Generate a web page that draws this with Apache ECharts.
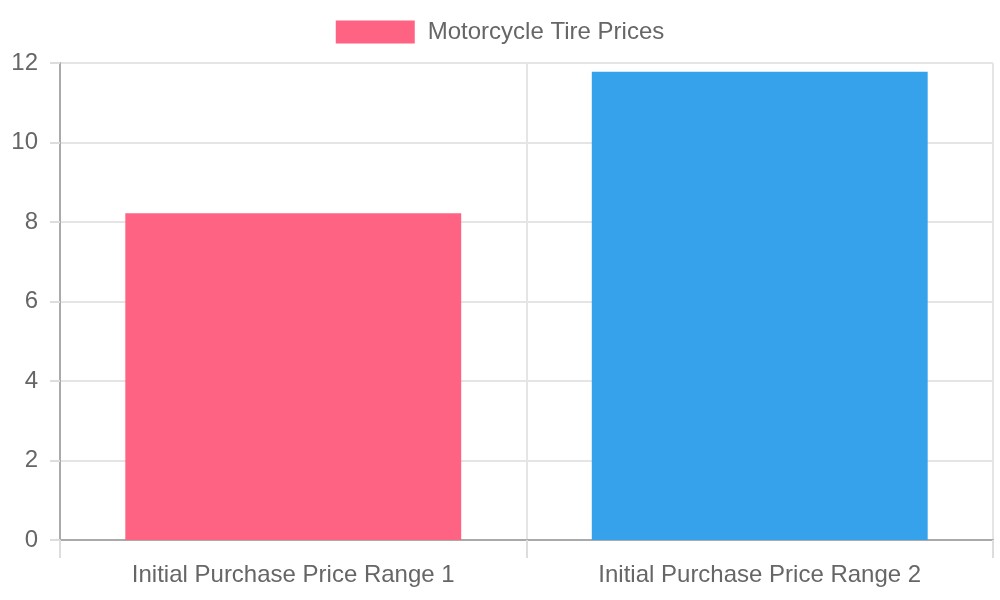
<!DOCTYPE html>
<html>
<head>
<meta charset="utf-8">
<script src="https://cdn.jsdelivr.net/npm/echarts@6/dist/echarts.min.js"></script>
<style>
  html, body { margin: 0; padding: 0; background: #fff; }
  #chart { width: 1000px; height: 600px; }
</style>
</head>
<body>
<div id="chart"></div>
<script>
// chart data
const categories = [ 'Initial Purchase Price Range 1', 'Initial Purchase Price Range 2' ];
const prices = [ 8.22, 11.78 ];
const barColors = [ '#FF6384', '#36A2EB' ];
const seriesName = 'Motorcycle Tire Prices';

( function ()
{
  let myChart = echarts.init( document.getElementById( 'chart' ) );
  let option = {
    animation: false,
    textStyle: { fontFamily: 'Liberation Sans, Arial, sans-serif' },
    legend: {
      top: 15,
      left: 'center',
      icon: 'rect',
      itemWidth: 79,
      itemHeight: 23,
      itemGap: 12,
      textStyle: { fontSize: 24, color: '#666', padding: [ 0, 0, 0, 8 ] },
      data: [ seriesName ]
    },
    grid: { left: 60, right: 7, top: 63, bottom: 60, containLabel: false },
    xAxis: {
      type: 'category',
      data: categories,
      axisLine: { lineStyle: { color: '#aaa', width: 2 } },
      axisTick: { show: true, length: 18, lineStyle: { color: '#ddd', width: 2 } },
      axisLabel: { fontSize: 24, color: '#666', margin: 23 },
      splitLine: { show: true, lineStyle: { color: '#e5e5e5', width: 2 } }
    },
    yAxis: {
      type: 'value',
      min: 0,
      max: 12,
      interval: 2,
      axisLine: { show: true, lineStyle: { color: '#aaa', width: 2 } },
      axisTick: { show: true, length: 10, lineStyle: { color: '#ddd', width: 2 } },
      axisLabel: { fontSize: 24, color: '#666', margin: 22 },
      splitLine: { show: true, lineStyle: { color: '#e5e5e5', width: 2 } }
    },
    series: [
      {
        name: seriesName,
        type: 'bar',
        barWidth: '72%',
        itemStyle: { color: barColors[ 0 ] },
        data: prices.map( function ( v, i )
        {
          return { value: v, itemStyle: { color: barColors[ i ] } };
        } )
      }
    ]
  };
  myChart.setOption( option );
  window.addEventListener( 'resize', function ()
  {
    myChart.resize();
  } );
} )();
</script>
</body>
</html>
